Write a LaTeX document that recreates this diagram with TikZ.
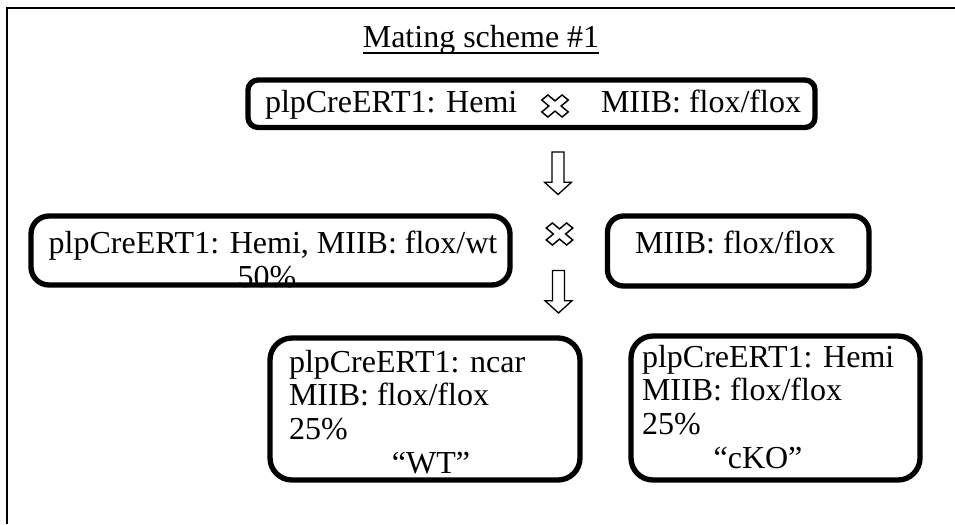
\documentclass[tikz,border=0pt]{standalone}
\usepackage{fontspec}
\setmainfont{Liberation Serif}
\begin{document}
\begin{tikzpicture}[x=0.75pt,y=-0.75pt,
  txt/.style={inner sep=0pt,outer sep=0pt,font=\fontsize{24}{25.3}\selectfont},
  box/.style={draw,line width=4pt,inner sep=0pt},
  arrowline/.style={draw,line width=1pt,fill=white},
  crossline/.style={draw,line width=1.1pt,line join=miter},
  frameline/.style={line width=1.5pt},
  downarrow/.pic={\draw[arrowline] (-6,-21) -- (6,-21) -- (6,9.2) -- (13.5,9.2) -- (0,21.5) -- (-13.5,9.2) -- (-6,9.2) -- cycle;},
  crossmark/.pic={\draw[crossline,xscale=1.2,rotate=45]
     (-3.6,12) -- (3.6,12) -- (3.6,3.6) -- (12,3.6) -- (12,-3.6) -- (3.6,-3.6)
     -- (3.6,-12) -- (-3.6,-12) -- (-3.6,-3.6) -- (-12,-3.6) -- (-12,3.6) -- (-3.6,3.6) -- cycle;}
]
\useasboundingbox (0,0) rectangle (955,524);

% page frame (top and left edges)
\draw[frameline] (7,524) -- (7,8) -- (955,8);

% title
\node[txt,anchor=base] (title) at (481,48) {Mating scheme \#1};
\draw[line width=1.4pt] ([yshift=-3.5pt]title.base west) -- ([yshift=-3.5pt]title.base east);

% parents
\node[box,rounded corners=7.5pt,minimum width=425.25pt,minimum height=35.6pt] (parents) at (531.5,103.75) {};
\node[txt,anchor=base west] (p1) at (265,113) {plpCreERT1: Hemi};
\pic (x1) at (555,106) {crossmark};
\node[txt,anchor=base west] (p2) at (601,113) {MIIB: flox/flox};

\pic (a1) at (558,173) {downarrow};

% first generation
\node[box,rounded corners=13.5pt,minimum width=359.25pt,minimum height=51.75pt] (f1) at (270.5,250.5) {};
\node[txt,anchor=base] (f1a) at (273,253) {plpCreERT1: Hemi, MIIB: flox/wt};
\node[txt,anchor=base] (f1b) at (267,287) {50\%};
\pic (x2) at (559.5,234) {crossmark};
\node[box,rounded corners=12pt,minimum width=196.1pt,minimum height=52.5pt] (f2) at (738.25,251) {};
\node[txt,anchor=base west] (f2a) at (635,253) {MIIB: flox/flox};

\pic (a2) at (558.5,291.5) {downarrow};

% offspring
\node[box,rounded corners=16.5pt,minimum width=232.5pt,minimum height=106.5pt] (wt) at (425,409) {};
\node[txt,anchor=base west] (wt1) at (289,372) {plpCreERT1: ncar};
\node[txt,anchor=base west] (wt2) at (289,405.7) {MIIB: flox/flox};
\node[txt,anchor=base west] (wt3) at (289,439.4) {25\%};
\node[txt,anchor=base] (wt4) at (431,473) {“WT”};

\node[box,rounded corners=16.5pt,minimum width=216.75pt,minimum height=108pt] (ko) at (775.5,408) {};
\node[txt,anchor=base west] (ko1) at (642,367) {plpCreERT1: Hemi};
\node[txt,anchor=base west] (ko2) at (642,400.5) {MIIB: flox/flox};
\node[txt,anchor=base west] (ko3) at (642,434) {25\%};
\node[txt,anchor=base] (ko4) at (758,468) {“cKO”};
\end{tikzpicture}
\end{document}
